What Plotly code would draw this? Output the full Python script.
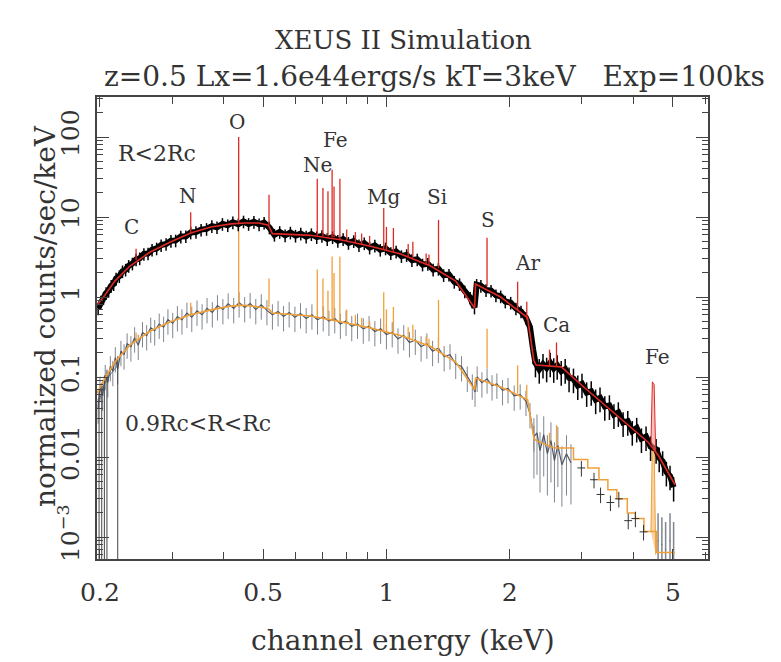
import numpy as np
import plotly.graph_objects as go

# ---------------- data ----------------
# Upper spectrum (R<2Rc): model continuum (red)
up_model_E = [0.1967, 0.2057, 0.2174, 0.2367, 0.2652, 0.2972, 0.333, 0.3731, 0.4181, 0.452, 0.4888,
              0.515, 0.527, 0.583, 0.653, 0.772, 0.915, 1.083, 1.282, 1.476, 1.642, 1.650, 1.90,
              2.21, 2.25, 2.29, 2.32, 2.67, 3.03, 3.67, 4.35, 4.60, 5.06]
up_model_val = [0.79, 1.06, 1.58, 2.44, 3.65, 4.87, 6.3, 7.5, 8.2, 8.4, 8.4,
                7.9, 6.2, 6.1, 5.9, 5.2, 4.3, 3.45, 2.44, 1.58, 0.73, 1.45, 1.0,
                0.55, 0.30, 0.16, 0.141, 0.134, 0.075, 0.032, 0.0153, 0.0106, 0.0045]

# Upper spectrum: observed counts (black)
up_data_E = [0.198, 0.201, 0.204, 0.207, 0.210, 0.213, 0.216, 0.219, 0.223, 0.227, 0.231, 0.235,
             0.240, 0.245, 0.250, 0.256, 0.262, 0.268, 0.275, 0.282, 0.290, 0.298, 0.306, 0.315,
             0.324, 0.333, 0.343, 0.353, 0.364, 0.375, 0.386, 0.398, 0.410, 0.422, 0.435, 0.448,
             0.461, 0.475, 0.489, 0.503, 0.518, 0.533, 0.549, 0.566, 0.583, 0.600, 0.618, 0.637,
             0.656, 0.676, 0.696, 0.717, 0.739, 0.761, 0.784, 0.808, 0.832, 0.857, 0.883, 0.910,
             0.937, 0.966, 0.995, 1.025, 1.056, 1.088, 1.120, 1.154, 1.189, 1.225, 1.262, 1.300,
             1.339, 1.379, 1.421, 1.464, 1.508, 1.553, 1.600, 1.640, 1.660, 1.700, 1.750, 1.800,
             1.850, 1.900, 1.950, 2.010, 2.070, 2.130, 2.190, 2.240, 2.280, 2.310,
             2.36, 2.41, 2.46, 2.51, 2.56, 2.61, 2.67, 2.73, 2.79, 2.86, 2.93, 3.00, 3.08, 3.16,
             3.24, 3.32, 3.41, 3.50, 3.59, 3.68, 3.78, 3.88, 3.98, 4.08, 4.19, 4.30, 4.41, 4.55,
             4.63, 4.72, 4.82, 4.92, 5.02]
up_data_val = [0.72, 0.88, 0.97, 1.12, 1.20, 1.38, 1.45, 1.70, 1.82, 2.10, 2.20, 2.45,
               2.62, 2.95, 3.05, 3.45, 3.50, 3.90, 4.05, 4.45, 4.60, 5.05, 5.10, 5.70,
               5.75, 6.40, 6.50, 6.95, 7.10, 7.70, 7.45, 8.20, 7.90, 8.60, 8.10, 8.80,
               8.20, 8.70, 8.10, 8.50, 7.40, 6.00, 6.50, 5.90, 6.40, 5.85, 6.20, 5.70,
               6.10, 5.60, 5.80, 5.30, 5.60, 5.05, 5.30, 4.75, 5.00, 4.45, 4.70, 4.15,
               4.40, 3.90, 4.05, 3.55, 3.70, 3.25, 3.35, 2.90, 2.95, 2.55, 2.60, 2.20,
               2.25, 1.88, 1.90, 1.55, 1.45, 1.18, 0.98, 0.74, 1.42, 1.38, 1.22, 1.20,
               1.05, 1.02, 0.88, 0.85, 0.72, 0.66, 0.55, 0.42, 0.22, 0.15,
               0.125, 0.145, 0.130, 0.150, 0.128, 0.140, 0.118, 0.125, 0.098, 0.095, 0.078, 0.082, 0.064, 0.066,
               0.052, 0.055, 0.043, 0.044, 0.034, 0.036, 0.027, 0.028, 0.021, 0.023, 0.017, 0.018, 0.0135, 0.0125,
               0.0098, 0.0088, 0.0065, 0.0058, 0.0042]

# Lower spectrum (0.9Rc<R<Rc): model continuum (orange)
low_model_E = [0.1967, 0.2057, 0.2174, 0.2367, 0.2652, 0.2972, 0.333, 0.3731, 0.4181, 0.452, 0.4888,
               0.515, 0.527, 0.583, 0.653, 0.772, 0.915, 1.083, 1.282, 1.476, 1.642, 1.650, 1.90,
               2.21, 2.25, 2.29, 2.32, 2.56]
low_model_val = [0.063, 0.097, 0.154, 0.25, 0.376, 0.49, 0.6, 0.69, 0.77, 0.79, 0.75,
                 0.72, 0.63, 0.61, 0.58, 0.49, 0.41, 0.33, 0.24, 0.154, 0.069, 0.097, 0.075,
                 0.052, 0.03, 0.017, 0.016, 0.013]
# Lower model, coarse bins at high energy (stepped)
low_bin_E = [2.56, 2.86, 3.10, 3.30, 3.47, 3.65, 3.87, 4.05, 4.25, 4.42, 4.56, 4.70, 5.06]
low_bin_val = [0.013, 0.0093, 0.0073, 0.0052, 0.0039, 0.0030, 0.0020, 0.0017, 0.00117, 0.00117,
               0.00064, 0.00064, 0.00064]

# Lower spectrum: observed counts (grey)
low_data_E = [0.198, 0.200, 0.203, 0.206, 0.209, 0.212, 0.215, 0.218, 0.221, 0.225, 0.229, 0.233,
              0.238, 0.243, 0.248, 0.254, 0.260, 0.266, 0.272, 0.279, 0.286, 0.293, 0.301, 0.309,
              0.317, 0.326, 0.335, 0.345, 0.355, 0.365, 0.376, 0.387, 0.399, 0.411, 0.424, 0.437,
              0.451, 0.465, 0.480, 0.495, 0.511, 0.527, 0.544, 0.561, 0.579, 0.598, 0.617, 0.637,
              0.658, 0.679, 0.701, 0.724, 0.748, 0.772, 0.797, 0.823, 0.850, 0.878, 0.907, 0.937,
              0.968, 1.000, 1.033, 1.067, 1.102, 1.138, 1.176, 1.215, 1.255, 1.296, 1.339, 1.383,
              1.429, 1.476, 1.525, 1.575, 1.620, 1.645, 1.665, 1.71, 1.76, 1.81, 1.86, 1.92,
              1.98, 2.05, 2.12, 2.19, 2.24, 2.29,
              2.33, 2.37, 2.42, 2.47, 2.52, 2.57, 2.62, 2.68, 2.75, 2.82]
low_data_val = [0.040, 0.075, 0.058, 0.105, 0.085, 0.135, 0.118, 0.175, 0.125, 0.21, 0.19, 0.26,
                0.24, 0.31, 0.25, 0.36, 0.33, 0.41, 0.38, 0.46, 0.42, 0.52, 0.47, 0.57,
                0.52, 0.63, 0.56, 0.67, 0.60, 0.72, 0.64, 0.78, 0.70, 0.82, 0.72, 0.85,
                0.74, 0.83, 0.70, 0.80, 0.68, 0.60, 0.66, 0.57, 0.64, 0.56, 0.62, 0.54,
                0.60, 0.52, 0.57, 0.50, 0.54, 0.46, 0.50, 0.43, 0.46, 0.40, 0.43, 0.37,
                0.40, 0.34, 0.36, 0.30, 0.33, 0.27, 0.29, 0.24, 0.26, 0.21, 0.23, 0.18,
                0.19, 0.145, 0.135, 0.10, 0.080, 0.065, 0.10, 0.085, 0.095, 0.078, 0.082, 0.068,
                0.072, 0.058, 0.060, 0.050, 0.035, 0.018,
                0.020, 0.012, 0.019, 0.011, 0.016, 0.009, 0.014, 0.008, 0.011, 0.0085]
# lowest-energy grey channels whose error bars reach the axis
low_deep_E = [0.199, 0.202, 0.205, 0.208, 0.221]
low_deep_val = [0.05, 0.065, 0.08, 0.095, 0.14]
# high-energy grey channels near the end of the band
low_tail_E = [4.60, 4.70, 4.80, 4.92, 5.02]
low_tail_val = [0.0009, 0.0008, 0.0007, 0.0009, 0.0007]
# binned lower data (crosses)
low_cross_E = [2.99, 3.21, 3.33, 3.52, 3.69, 3.89, 4.05, 4.24]
low_cross_val = [0.0073, 0.0052, 0.0034, 0.0027, 0.0030, 0.0016, 0.0017, 0.00116]

# Emission lines: energy, continuum base and peak for both spectra
line_E = [0.245, 0.333, 0.436, 0.517, 0.678, 0.700, 0.720, 0.737, 0.745, 0.770, 0.800, 0.840,
          0.870, 0.910, 0.985, 1.000, 1.040, 1.130, 1.160, 1.250, 1.270, 1.340, 1.760, 2.090,
          2.200, 2.500, 2.600]
line_up_base = [2.9, 6.3, 8.3, 8.0, 5.9, 5.8, 5.7, 5.6, 5.55, 5.2, 5.0, 4.7,
                4.6, 4.4, 3.9, 3.8, 3.6, 3.2, 3.1, 2.6, 2.5, 2.3, 1.35, 0.68,
                0.52, 0.135, 0.134]
line_up_peak = [4.0, 11.5, 100, 19, 30, 23, 21, 39, 24, 30, 7.0, 6.5,
                6.2, 5.8, 13, 7.5, 7.3, 4.6, 4.9, 3.5, 3.4, 9.2, 5.5, 1.55,
                0.87, 0.22, 0.27]
line_low_base = [0.29, 0.6, 0.78, 0.75, 0.55, 0.54, 0.53, 0.52, 0.52, 0.49, 0.47, 0.45,
                 0.44, 0.42, 0.37, 0.36, 0.35, 0.30, 0.30, 0.25, 0.24, 0.22, 0.13, 0.062,
                 0.05, 0.014, 0.013]
line_low_peak = [0.36, 0.85, 9.0, 1.7, 2.2, 1.7, 1.2, 3.2, 2.0, 3.2, 0.7, 0.6,
                 0.55, 0.5, 1.15, 0.7, 0.75, 0.42, 0.45, 0.32, 0.30, 0.92, 0.40, 0.14,
                 0.08, 0.02, 0.025]
# Fe K line (broad, filled)
fe_E = [4.42, 4.455, 4.50, 4.54]
fe_up_val = [0.0150, 0.087, 0.080, 0.0115]
fe_low_val = [0.00117, 0.015, 0.014, 0.0006]

# Element labels (energy, height)
elem_text = ["C", "N", "O", "Ne", "Fe", "Mg", "Si", "S", "Ar", "Ca", "Fe"]
elem_E = [0.239, 0.328, 0.433, 0.678, 0.753, 0.986, 1.33, 1.77, 2.21, 2.60, 4.58]
elem_y = [7.5, 18.3, 154, 44.7, 91.9, 17.8, 17.8, 9.17, 2.66, 0.447, 0.178]
region_text = ["R<2Rc", "0.9Rc<R<Rc"]
region_E = [0.276, 0.346]
region_y = [63, 0.0266]

# axis ticks
x_tickvals = [0.2, 0.5, 1, 2, 5]
x_ticktext = ["0.2", "0.5", "1", "2", "5"]
x_minor = [0.3, 0.4, 0.6, 0.7, 0.8, 0.9, 3, 4, 6]
y_tickvals = [1e-3, 0.01, 0.1, 1, 10, 100]
y_ticktext = ["10<sup>\u22123</sup>", "0.01", "0.1", "1", "10", "100"]

# ---------------- styling ----------------
FONT = "DejaVu Serif"
TXT = "#333333"
RED = "#de2a24"
ORANGE = "#f0a038"
GREY = "#505663"
GREYBAR = "#7f858f"

W, H = 781, 662
PT, PB = 97, 559
PL, PR = 97, 708


def py(ypix):
    return (PB - ypix) / (PB - PT)


def px(xpix):
    return (xpix - PL) / (PR - PL)


def spikes(E, base, peak):
    xs, ys = [], []
    for e, b, p in zip(E, base, peak):
        xs += [e, e, None]
        ys += [b, p, None]
    return xs, ys


fig = go.Figure()

# lower spectrum data (grey)
split_lo = next(i for i, e in enumerate(low_data_E) if e >= 2.3)
fig.add_trace(go.Scatter(x=low_data_E[:split_lo], y=low_data_val[:split_lo], mode="lines",
                         line=dict(color=GREY, width=1.2),
                         error_y=dict(type="percent", value=35, color=GREYBAR, thickness=1, width=0)))
fig.add_trace(go.Scatter(x=low_data_E[split_lo - 1:], y=low_data_val[split_lo - 1:], mode="lines",
                         line=dict(color=GREY, width=1.2),
                         error_y=dict(type="percent", value=70, color=GREYBAR, thickness=1, width=0)))
fig.add_trace(go.Scatter(x=low_deep_E, y=low_deep_val, mode="lines",
                         line=dict(color=GREY, width=0.8),
                         error_y=dict(type="percent", symmetric=False, value=30, valueminus=99.9,
                                      color="#444444", thickness=1, width=0)))
fig.add_trace(go.Scatter(x=low_tail_E, y=low_tail_val, mode="markers",
                         marker=dict(size=1, color=GREY),
                         error_y=dict(type="percent", symmetric=False, value=120, valueminus=99.9,
                                      color=GREYBAR, thickness=1.5, width=0)))

# lower model (orange)
fig.add_trace(go.Scatter(x=low_model_E, y=low_model_val, mode="lines",
                         line=dict(color=ORANGE, width=1.6)))
fig.add_trace(go.Scatter(x=low_bin_E, y=low_bin_val, mode="lines", line_shape="hv",
                         line=dict(color=ORANGE, width=1.5)))
sx, sy = spikes(line_E, line_low_base, line_low_peak)
fig.add_trace(go.Scatter(x=sx, y=sy, mode="lines", line=dict(color=ORANGE, width=1.3)))
fig.add_trace(go.Scatter(x=fe_E, y=fe_low_val, mode="lines", fill="toself",
                         fillcolor="rgba(240,160,56,0.45)", line=dict(color=ORANGE, width=1)))
# lower binned data crosses
fig.add_trace(go.Scatter(x=low_cross_E, y=low_cross_val, mode="markers",
                         marker=dict(size=1, color="#333333"),
                         error_y=dict(type="percent", value=22, color="#333333", thickness=1, width=0),
                         error_x=dict(type="percent", value=2.2, color="#333333", thickness=1, width=0)))

# upper spectrum data (black)
split_up = next(i for i, e in enumerate(up_data_E) if e >= 2.3)
fig.add_trace(go.Scatter(x=up_data_E[:split_up], y=up_data_val[:split_up], mode="lines",
                         line=dict(color="black", width=6),
                         error_y=dict(type="percent", value=18, color="black", thickness=1.5, width=0)))
fig.add_trace(go.Scatter(x=up_data_E[split_up - 1:], y=up_data_val[split_up - 1:], mode="lines",
                         line=dict(color="black", width=6),
                         error_y=dict(type="percent", value=34, color="black", thickness=1.5, width=0)))

# upper model (red)
fig.add_trace(go.Scatter(x=up_model_E, y=up_model_val, mode="lines", line=dict(color=RED, width=1.6)))
sx, sy = spikes(line_E, line_up_base, line_up_peak)
fig.add_trace(go.Scatter(x=sx, y=sy, mode="lines", line=dict(color=RED, width=1.3)))
fig.add_trace(go.Scatter(x=fe_E, y=fe_up_val, mode="lines", fill="toself",
                         fillcolor="rgba(240,150,150,0.6)", line=dict(color=RED, width=1)))

# ---------------- text ----------------
for t, e, y in zip(elem_text, elem_E, elem_y):
    fig.add_annotation(x=np.log10(e), y=np.log10(y), xref="x", yref="y", text=t, showarrow=False,
                       xanchor="center", yanchor="middle",
                       font=dict(family=FONT, size=20, color=TXT))
for t, e, y in zip(region_text, region_E, region_y):
    fig.add_annotation(x=np.log10(e), y=np.log10(y), xref="x", yref="y", text=t, showarrow=False,
                       xanchor="center", yanchor="middle",
                       font=dict(family=FONT, size=22, color=TXT))
fig.add_annotation(x=px(403), y=py(40), xref="paper", yref="paper", text="XEUS II Simulation",
                   showarrow=False, xanchor="center", yanchor="middle",
                   font=dict(family=FONT, size=26, color=TXT))
fig.add_annotation(x=px(434), y=py(76), xref="paper", yref="paper",
                   text="z=0.5 Lx=1.6e44ergs/s kT=3keV\u00a0\u00a0 Exp=100ks",
                   showarrow=False, xanchor="center", yanchor="middle",
                   font=dict(family=FONT, size=28, color=TXT))
fig.add_annotation(x=px(403), y=py(640), xref="paper", yref="paper", text="channel energy (keV)",
                   showarrow=False, xanchor="center", yanchor="middle",
                   font=dict(family=FONT, size=28, color=TXT))
fig.add_annotation(x=px(45), y=py(316), xref="paper", yref="paper", text="normalized counts/sec/keV",
                   textangle=-90, showarrow=False, xanchor="center", yanchor="middle",
                   font=dict(family=FONT, size=28, color=TXT))

axis_common = dict(type="log", showgrid=False, zeroline=False, showline=True, linecolor="#444444",
                   linewidth=1.5, mirror="ticks", ticks="inside", tickcolor="#444444", tickwidth=1.2,
                   tickfont=dict(family=FONT, size=25, color=TXT))
fig.update_xaxes(**axis_common, range=[np.log10(0.1967), np.log10(6.09)],
                 tickmode="array", tickvals=x_tickvals, ticktext=x_ticktext, ticklen=10,
                 ticklabelstandoff=10,
                 minor=dict(tickmode="array", tickvals=x_minor, ticks="inside", ticklen=7,
                            tickcolor="#444444", tickwidth=1.2, showgrid=False))
y_minor = [m * d for d in [1e-4, 1e-3, 1e-2, 1e-1, 1, 10, 100] for m in range(2, 10)]
fig.update_yaxes(**axis_common, range=[-3.275, 2.5],
                 tickmode="array", tickvals=y_tickvals, ticktext=y_ticktext, ticklen=12,
                 tickangle=-90, ticklabelstandoff=6,
                 minor=dict(tickmode="array", tickvals=y_minor, ticks="inside", ticklen=6,
                            tickcolor="#444444", tickwidth=1, showgrid=False))

fig.update_layout(width=W, height=H, showlegend=False,
                  margin=dict(l=PL, r=W - PR, t=PT, b=H - PB),
                  paper_bgcolor="white", plot_bgcolor="white")

fig.write_html("out.html")
